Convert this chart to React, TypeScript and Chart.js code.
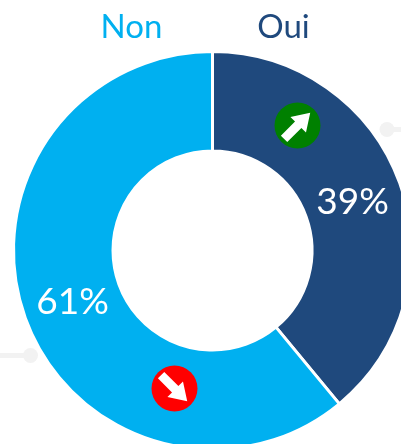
import React, { useEffect, useRef } from "react";
import { Chart, registerables } from "chart.js";

Chart.register(...registerables);

const categories = ["Oui", "Non"];
const shares = [39, 61];
const colors = ["#1F497D", "#00B0F0"];
const badgeColors = ["#008000", "#FF0000"];
const FONT = "Lato, 'Open Sans', sans-serif";

const overlay = {
  id: "overlay",
  beforeDatasetsDraw(chart: any) {
    const { ctx } = chart;
    const arc = chart.getDatasetMeta(0).data[0];
    const cx = arc.x, cy = arc.y;
    ctx.save();
    ctx.fillStyle = "#F2F2F2";
    ctx.strokeStyle = "#F2F2F2";
    ctx.lineWidth = 5;
    ctx.beginPath(); ctx.arc(cx + 174.5, cy - 121, 7.5, 0, Math.PI * 2); ctx.fill();
    ctx.beginPath(); ctx.moveTo(cx + 174.5, cy - 121); ctx.lineTo(cx + 200, cy - 121); ctx.stroke();
    ctx.beginPath(); ctx.arc(cx - 182, cy + 105, 7.5, 0, Math.PI * 2); ctx.fill();
    ctx.beginPath(); ctx.moveTo(cx - 182, cy + 105); ctx.lineTo(cx - 215, cy + 105); ctx.stroke();
    ctx.restore();
  },
  afterDatasetsDraw(chart: any) {
    const { ctx } = chart;
    const arc = chart.getDatasetMeta(0).data[0];
    const cx = arc.x, cy = arc.y;
    ctx.save();
    ctx.textAlign = "center";
    ctx.textBaseline = "middle";
    ctx.font = `33px ${FONT}`;
    ctx.fillStyle = colors[0];
    ctx.fillText(categories[0], cx + 71, cy - 223);
    ctx.fillStyle = colors[1];
    ctx.fillText(categories[1], cx - 81, cy - 223);
    ctx.font = `37px ${FONT}`;
    ctx.fillStyle = "#FFFFFF";
    ctx.fillText(shares[0] + "%", cx + 140, cy - 48);
    ctx.fillText(shares[1] + "%", cx - 140, cy + 52);

    const badge = (x: number, y: number, color: string, rot: number) => {
      ctx.save();
      ctx.translate(x, y);
      ctx.fillStyle = color;
      ctx.beginPath(); ctx.arc(0, 0, 23, 0, Math.PI * 2); ctx.fill();
      ctx.rotate(rot);
      ctx.fillStyle = "#FFFFFF";
      ctx.beginPath();
      ctx.moveTo(-19, -4.5);
      ctx.lineTo(1, -4.5);
      ctx.lineTo(1, -11);
      ctx.lineTo(18, 0);
      ctx.lineTo(1, 11);
      ctx.lineTo(1, 4.5);
      ctx.lineTo(-19, 4.5);
      ctx.closePath();
      ctx.fill();
      ctx.restore();
    };
    badge(cx + 85, cy - 125, badgeColors[0], -Math.PI / 4);
    badge(cx - 38, cy + 138, badgeColors[1], Math.PI / 4);
    ctx.restore();
  },
};

export default function App() {
  const ref = useRef<HTMLCanvasElement>(null);
  useEffect(() => {
    document.body.style.margin = "0";
    document.body.style.overflow = "hidden";
    const chart = new Chart(ref.current!, {
      type: "doughnut",
      data: {
        labels: categories,
        datasets: [{ data: shares, backgroundColor: colors, borderColor: "#FFFFFF", borderWidth: 3 }],
      },
      options: {
        responsive: false,
        animation: false,
        cutout: "50%",
        layout: { padding: { left: 12, top: 50, right: 12, bottom: 13 } },
        plugins: { legend: { display: false }, tooltip: { enabled: false } },
      },
      plugins: [overlay],
    } as any);
    return () => chart.destroy();
  }, []);
  return (
    <div style={{ width: 401, height: 444, overflow: "hidden", position: "relative", background: "#fff" }}>
      <canvas ref={ref} width={425} height={464} style={{ display: "block" }} />
    </div>
  );
}
